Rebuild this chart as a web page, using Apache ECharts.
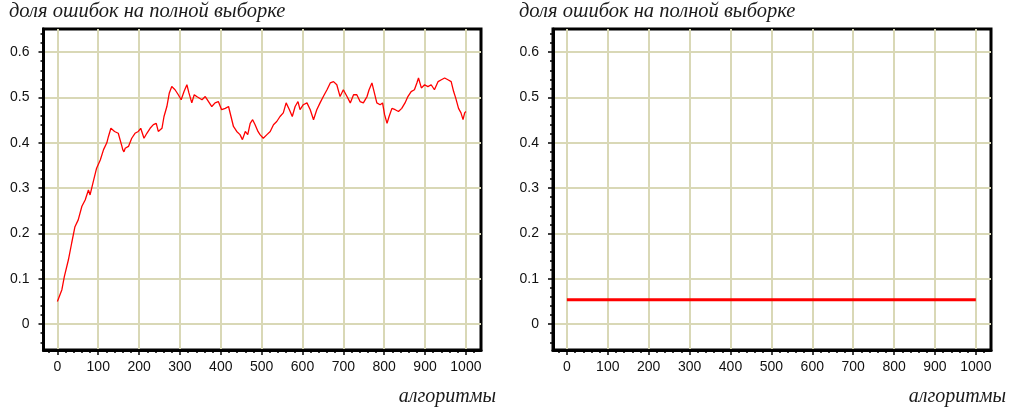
<!DOCTYPE html>
<html>
<head>
<meta charset="utf-8">
<script src="https://cdn.jsdelivr.net/npm/echarts@6/dist/echarts.min.js"></script>
<style>html,body{margin:0;padding:0;background:#fff}#c{width:1009px;height:412px}</style>
</head>
<body>
<div id="c"></div>
<script>
// ---- data ----
const titleText = 'доля ошибок на полной выборке';
const xName = 'алгоритмы';
const xTicks = [0, 100, 200, 300, 400, 500, 600, 700, 800, 900, 1000];
const yTicks = [0, 0.1, 0.2, 0.3, 0.4, 0.5, 0.6];

const algLeft = [0, 11, 17, 27, 35, 43, 51, 60, 68, 76, 80, 88, 96, 105, 113, 121, 125, 131, 140, 149, 153, 158, 160, 163, 166, 174, 182, 190, 198, 204, 212, 219, 227, 235, 242, 247, 256, 261, 268, 274, 280, 288, 296, 303, 310, 317, 322, 329, 335, 341, 345, 354, 362, 370, 378, 386, 394, 402, 411, 419, 425, 431, 439, 447, 453, 460, 466, 472, 478, 484, 491, 496, 504, 513, 521, 529, 537, 545, 553, 560, 568, 575, 582, 589, 594, 602, 611, 619, 627, 635, 643, 651, 660, 668, 676, 684, 692, 700, 709, 717, 725, 733, 741, 749, 758, 763, 770, 776, 782, 790, 796, 801, 807, 812, 819, 827, 835, 843, 851, 858, 866, 874, 880, 884, 891, 899, 907, 915, 923, 932, 940, 948, 956, 964, 970, 975, 982, 988, 993, 997, 1000];
const errLeft = [0.05, 0.076, 0.105, 0.142, 0.179, 0.215, 0.23, 0.26, 0.274, 0.296, 0.285, 0.315, 0.344, 0.362, 0.385, 0.40, 0.414, 0.432, 0.425, 0.421, 0.425, 0.392, 0.385, 0.38, 0.388, 0.392, 0.41, 0.421, 0.425, 0.432, 0.41, 0.421, 0.432, 0.44, 0.443, 0.425, 0.432, 0.458, 0.48, 0.51, 0.524, 0.517, 0.506, 0.495, 0.513, 0.528, 0.51, 0.488, 0.506, 0.502, 0.499, 0.495, 0.502, 0.491, 0.48, 0.488, 0.491, 0.473, 0.476, 0.48, 0.458, 0.436, 0.425, 0.418, 0.407, 0.425, 0.418, 0.443, 0.451, 0.44, 0.425, 0.418, 0.41, 0.418, 0.425, 0.44, 0.447, 0.458, 0.466, 0.488, 0.473, 0.458, 0.48, 0.491, 0.473, 0.484, 0.488, 0.473, 0.451, 0.473, 0.488, 0.502, 0.517, 0.532, 0.535, 0.528, 0.502, 0.517, 0.502, 0.488, 0.506, 0.506, 0.491, 0.488, 0.502, 0.517, 0.532, 0.51, 0.488, 0.484, 0.488, 0.462, 0.443, 0.458, 0.476, 0.473, 0.469, 0.476, 0.488, 0.502, 0.513, 0.517, 0.532, 0.543, 0.521, 0.528, 0.524, 0.528, 0.517, 0.535, 0.539, 0.543, 0.539, 0.535, 0.513, 0.499, 0.476, 0.466, 0.451, 0.466, 0.469];

const algRight = [0, 250, 500, 750, 1000];
const errRight = [0.054, 0.054, 0.054, 0.054, 0.054];

// ---- chart ----
const chart = echarts.init(document.getElementById('c'), null, {renderer: 'canvas'});
const labelFont = {fontFamily: 'Liberation Sans', fontSize: 14, color: '#111'};
const gridColor = '#d9d8b6';

function xAxisFor(gi) {
  return {
    type: 'value', gridIndex: gi, min: -34, max: 1037, splitNumber: 10,
    axisLine: {show: true, onZero: false, lineStyle: {color: '#000', width: 3}},
    axisTick: {show: true, length: 5, lineStyle: {color: '#000', width: 1.5}, customValues: xTicks},
    minorTick: {show: true, splitNumber: 5, length: 3, lineStyle: {color: '#000', width: 1.5}},
    axisLabel: Object.assign({margin: 10, customValues: xTicks, formatter: v => String(v)}, labelFont),
    splitLine: {show: true, lineStyle: {color: gridColor, width: 2}}
  };
}
function yAxisFor(gi) {
  return {
    type: 'value', gridIndex: gi, min: -0.057, max: 0.651, splitNumber: 7,
    axisLine: {show: true, onZero: false, lineStyle: {color: '#000', width: 3}},
    axisTick: {show: true, length: 5, lineStyle: {color: '#000', width: 1.5}, customValues: yTicks},
    minorTick: {show: true, splitNumber: 5, length: 3, lineStyle: {color: '#000', width: 1.5}},
    axisLabel: Object.assign({margin: 14, customValues: yTicks, formatter: v => String(Math.round(v * 10) / 10)}, labelFont),
    splitLine: {show: true, lineStyle: {color: gridColor, width: 2}}
  };
}

const titleStyle = {text: titleText, fontFamily: 'Liberation Serif', fontStyle: 'italic', fontSize: 20.5, fill: '#1a1a1a'};
const nameStyle = {text: xName, fontFamily: 'Liberation Serif', fontStyle: 'italic', fontSize: 20, fill: '#1a1a1a'};

chart.setOption({
  animation: false,
  backgroundColor: '#fff',
  grid: [
    {left: 43.5, top: 29, width: 437.5, height: 321, show: true, borderColor: '#000', borderWidth: 3, backgroundColor: 'transparent', containLabel: false},
    {left: 553, top: 29, width: 438, height: 321, show: true, borderColor: '#000', borderWidth: 3, backgroundColor: 'transparent', containLabel: false}
  ],
  xAxis: [xAxisFor(0), xAxisFor(1)],
  yAxis: [yAxisFor(0), yAxisFor(1)],
  graphic: [
    {type: 'text', left: 9, top: 2, style: titleStyle},
    {type: 'text', left: 519, top: 2, style: titleStyle},
    {type: 'text', right: 513, top: 387, style: nameStyle},
    {type: 'text', right: 3, top: 387, style: nameStyle}
  ],
  series: [
    {type: 'line', xAxisIndex: 0, yAxisIndex: 0, data: algLeft.map((a, i) => [a, errLeft[i]]), showSymbol: false, symbol: 'none', lineStyle: {color: '#ff0000', width: 1.3}, z: 5},
    {type: 'line', xAxisIndex: 1, yAxisIndex: 1, data: algRight.map((a, i) => [a, errRight[i]]), showSymbol: false, symbol: 'none', lineStyle: {color: '#ff0000', width: 3}, z: 5}
  ]
});
</script>
</body>
</html>
